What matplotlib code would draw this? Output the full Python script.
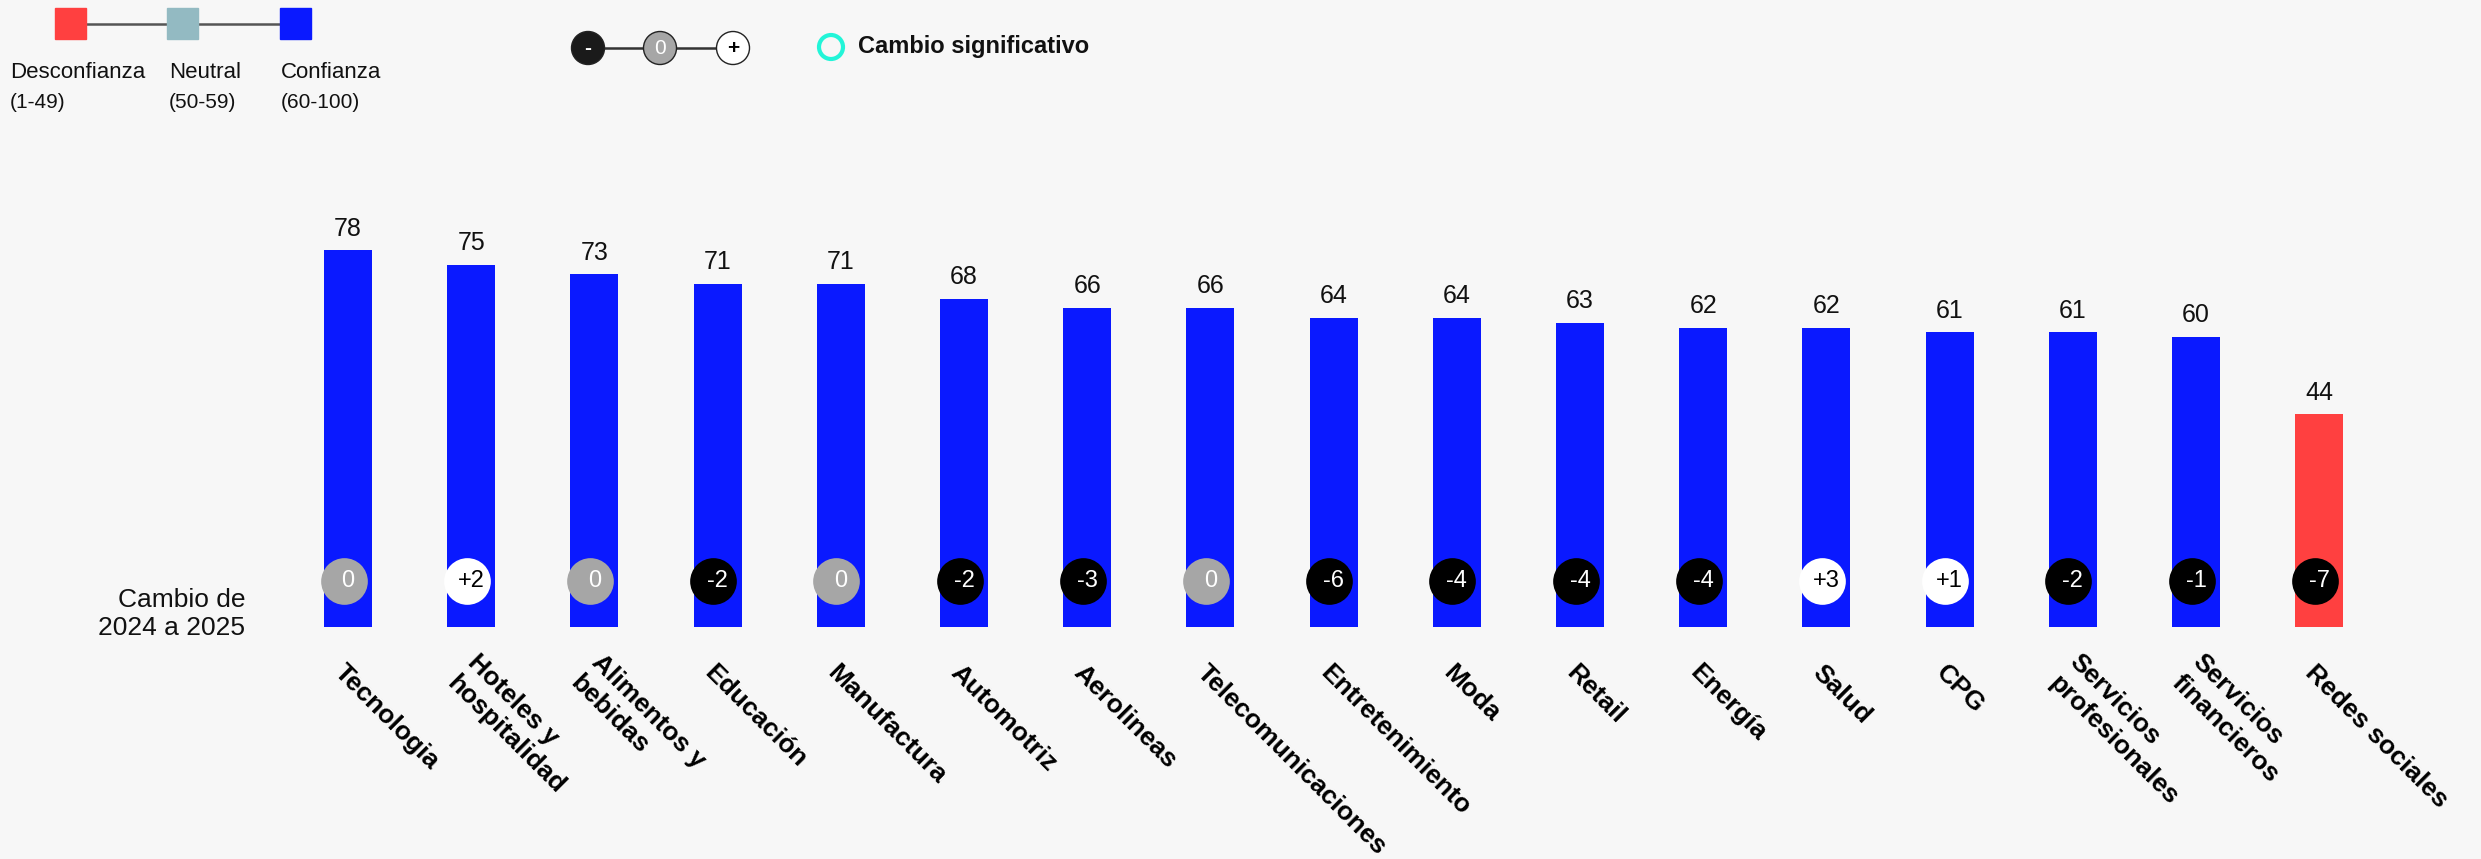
import matplotlib
matplotlib.use("Agg")
import matplotlib.pyplot as plt
import matplotlib.transforms as mtransforms

plt.rcParams['font.family'] = ['Liberation Sans', 'DejaVu Sans']

# --- data ---
categories = ["Tecnologia", "Hoteles y\nhospitalidad", "Alimentos y\nbebidas", "Educación",
              "Manufactura", "Automotriz", "Aerolineas", "Telecomunicaciones",
              "Entretenimiento", "Moda", "Retail", "Energía", "Salud", "CPG",
              "Servicios\nprofesionales", "Servicios\nfinancieros", "Redes sociales"]
values = [78, 75, 73, 71, 71, 68, 66, 66, 64, 64, 63, 62, 62, 61, 61, 60, 44]
changes = [0, 2, 0, -2, 0, -2, -3, 0, -6, -4, -4, -4, 3, 1, -2, -1, -7]

legend_labels = ["Desconfianza", "Neutral", "Confianza"]
legend_ranges = ["(1-49)", "(50-59)", "(60-100)"]

# --- colours ---
BG = "#f7f7f7"
RED = "#ff4040"
NEUTRAL = "#93bac2"
BLUE = "#0a19ff"
GRAY = "#a6a6a6"
TEAL = "#22f5d8"


def bar_color(v):
    if v < 50:
        return RED
    if v < 60:
        return NEUTRAL
    return BLUE


def bubble_style(c):
    # (face, text colour)
    if c > 0:
        return "white", "black"
    if c < 0:
        return "black", "white"
    return GRAY, "white"


W, H = 2481, 859
fig = plt.figure(figsize=(W / 100, H / 100), dpi=100, facecolor=BG)

# --- bars ---
ax = fig.add_axes([0, 0, 1, 1])
ax.set_facecolor(BG)
ax.axis("off")
px_x = 123.2
ax.set_xlim(-348 / px_x, (W - 348) / px_x)
px_y = 4.83
ax.set_ylim(-232 / px_y, (H - 232) / px_y)

xs = list(range(len(values)))
ax.bar(xs, values, width=0.39, color=[bar_color(v) for v in values], zorder=2)

for x, v in zip(xs, values):
    ax.annotate(str(v), (x, v), xytext=(0, 7), textcoords="offset points",
                ha="center", va="bottom", fontsize=18, color="#111111")

# change bubbles
trans = mtransforms.blended_transform_factory(ax.transData, ax.transAxes)
bub_y = 278 / H
for x, c in zip(xs, changes):
    face, tc = bubble_style(c)
    ax.scatter([x - 0.035], [bub_y], s=1130, color=face, transform=trans,
               zorder=3, linewidths=0)
    lbl = "0" if c == 0 else f"{c:+d}"
    ax.text(x, bub_y, lbl, transform=trans, ha="center", va="center",
            fontsize=17, color=tc, zorder=4)

# category labels
for x, cat in zip(xs, categories):
    ax.text(x - 0.08, 190 / H, cat, transform=trans, rotation=-45,
            rotation_mode="anchor", ha="left", va="center",
            fontsize=19, fontweight="bold", color="black", linespacing=1.3)

fig.text(245 / W, 1 - 614 / H, "Cambio de\n2024 a 2025", ha="right", va="center",
         fontsize=19, color="#111111", linespacing=1.2)

# --- legend overlay (pixel coords) ---
lg = fig.add_axes([0, 0, 1, 1])
lg.set_xlim(0, W)
lg.set_ylim(H, 0)
lg.axis("off")
lg.patch.set_alpha(0)

sq_x = [70, 182, 295]
lg.plot([sq_x[0], sq_x[-1]], [24, 24], color="#555555", lw=1.8, zorder=1)
for cx, col in zip(sq_x, [RED, NEUTRAL, BLUE]):
    lg.add_patch(plt.Rectangle((cx - 15.5, 8), 31, 31, color=col, zorder=2))
for lx, lab, rng in zip([10, 169, 281], legend_labels, legend_ranges):
    lg.text(lx, 72, lab, ha="left", va="center", fontsize=16, color="#111111")
    lg.text(lx, 103, rng, ha="left", va="center", fontsize=15, color="#111111")

c_x = [588, 660, 733]
lg.plot([c_x[0], c_x[-1]], [48, 48], color="#333333", lw=1.8, zorder=1)
for cx, face, tc, s in zip(c_x, ["#1a1a1a", GRAY, "white"], ["white", "white", "black"],
                          ["-", "0", "+"]):
    lg.add_patch(plt.Circle((cx, 48), 16.5, facecolor=face, edgecolor="#222222",
                            lw=1, zorder=2))
    lg.text(cx, 48, s, ha="center", va="center", fontsize=15, color=tc, zorder=3,
            fontweight="bold" if s != "0" else "normal")

lg.add_patch(plt.Circle((831, 47), 12, facecolor="none", edgecolor=TEAL, lw=3, zorder=2))
lg.text(858, 47, "Cambio significativo", ha="left", va="center", fontsize=17,
        fontweight="bold", color="#111111")

fig.savefig("out.png", dpi=100, facecolor=BG)
